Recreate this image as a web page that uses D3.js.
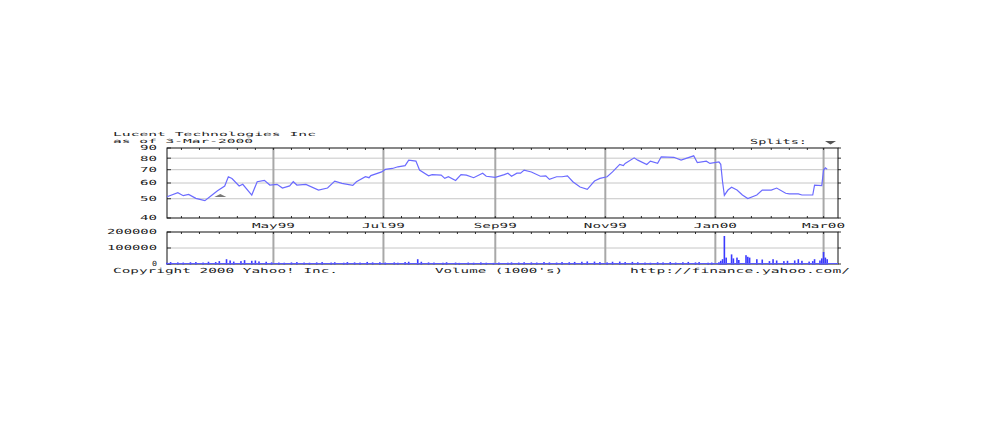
<!DOCTYPE html>
<html>
<head>
<meta charset="utf-8">
<script src="https://cdn.jsdelivr.net/npm/d3@7"></script>
<style>
html,body{margin:0;padding:0;background:#fff;}
svg{display:block;}
text{font-family:"DejaVu Sans Mono",monospace;fill:#222;}
</style>
</head>
<body>
<svg id="chart" width="981" height="436"></svg>
<script>
// ---------- data ----------
const titleText = "Lucent Technologies Inc";
const asOfText = "as of 3-Mar-2000";
const priceDates = ["1999-03-03","1999-03-09","1999-03-12","1999-03-15","1999-03-19","1999-03-24","1999-03-28","1999-03-31","1999-04-04","1999-04-06","1999-04-08","1999-04-12","1999-04-14","1999-04-19","1999-04-22","1999-04-26","1999-04-29","1999-05-03","1999-05-06","1999-05-10","1999-05-12","1999-05-14","1999-05-19","1999-05-26","1999-05-31","1999-06-04","1999-06-08","1999-06-14","1999-06-16","1999-06-21","1999-06-23","1999-06-24","1999-06-30","1999-07-02","1999-07-06","1999-07-09","1999-07-13","1999-07-15","1999-07-19","1999-07-21","1999-07-26","1999-07-28","1999-08-02","1999-08-04","1999-08-06","1999-08-10","1999-08-13","1999-08-16","1999-08-20","1999-08-25","1999-08-27","1999-09-01","1999-09-06","1999-09-08","1999-09-10","1999-09-13","1999-09-15","1999-09-17","1999-09-21","1999-09-26","1999-09-29","1999-10-01","1999-10-05","1999-10-08","1999-10-11","1999-10-14","1999-10-18","1999-10-22","1999-10-26","1999-10-29","1999-11-02","1999-11-05","1999-11-09","1999-11-11","1999-11-12","1999-11-17","1999-11-19","1999-11-24","1999-11-26","1999-11-30","1999-12-02","1999-12-09","1999-12-13","1999-12-20","1999-12-22","1999-12-27","1999-12-29","2000-01-03","2000-01-04","2000-01-05","2000-01-06","2000-01-08","2000-01-10","2000-01-13","2000-01-16","2000-01-19","2000-01-24","2000-01-27","2000-02-01","2000-02-04","2000-02-09","2000-02-11","2000-02-16","2000-02-18","2000-02-24","2000-02-25","2000-02-29","2000-03-01","2000-03-02","2000-03-03"];
const priceValues = [51.2,53.6,51.8,52.6,50.2,48.9,52.2,54.8,57.9,64.5,63.2,58.0,59.1,52.2,60.9,61.9,58.6,59.1,56.6,58.0,60.9,58.6,59.0,55.3,56.6,61.3,59.7,58.4,60.9,64.5,63.8,65.4,68.2,70.2,71.0,72.4,73.4,78.2,77.3,69.7,65.2,66.1,65.7,63.3,64.5,61.8,66.1,65.7,63.8,67.2,64.9,64.1,66.1,67.2,64.9,67.2,67.2,69.7,68.2,64.9,65.2,62.6,64.5,64.5,65.2,60.9,57.3,55.7,61.4,63.3,64.5,68.2,74.4,73.4,75.3,80.3,78.2,74.4,77.3,75.3,81.3,80.8,78.2,82.2,76.1,77.3,75.3,76.6,74.5,60.9,52.0,55.3,57.1,55.3,52.2,50.1,52.2,55.3,55.3,56.6,53.3,52.9,52.9,52.2,52.2,58.6,58.2,69.7,71.5,70.4];
const volumeDates = ["1999-03-03","1999-03-05","1999-03-09","1999-03-12","1999-03-16","1999-03-19","1999-03-23","1999-03-26","1999-03-30","1999-04-01","1999-04-05","1999-04-07","1999-04-09","1999-04-13","1999-04-15","1999-04-19","1999-04-21","1999-04-23","1999-04-27","1999-04-30","1999-05-04","1999-05-07","1999-05-11","1999-05-14","1999-05-18","1999-05-21","1999-05-25","1999-05-28","1999-06-02","1999-06-04","1999-06-09","1999-06-11","1999-06-15","1999-06-18","1999-06-22","1999-06-25","1999-06-29","1999-07-02","1999-07-07","1999-07-09","1999-07-13","1999-07-15","1999-07-20","1999-07-22","1999-07-26","1999-07-29","1999-08-03","1999-08-05","1999-08-10","1999-08-12","1999-08-17","1999-08-20","1999-08-24","1999-08-27","1999-08-31","1999-09-03","1999-09-08","1999-09-10","1999-09-14","1999-09-17","1999-09-21","1999-09-24","1999-09-28","1999-10-01","1999-10-05","1999-10-08","1999-10-12","1999-10-15","1999-10-19","1999-10-22","1999-10-26","1999-10-29","1999-11-02","1999-11-05","1999-11-09","1999-11-12","1999-11-16","1999-11-19","1999-11-23","1999-11-26","1999-11-30","1999-12-03","1999-12-07","1999-12-10","1999-12-14","1999-12-17","1999-12-21","1999-12-23","1999-12-28","1999-12-30","2000-01-03","2000-01-04","2000-01-05","2000-01-06","2000-01-07","2000-01-10","2000-01-11","2000-01-13","2000-01-14","2000-01-18","2000-01-19","2000-01-20","2000-01-24","2000-01-27","2000-01-31","2000-02-02","2000-02-04","2000-02-08","2000-02-10","2000-02-14","2000-02-16","2000-02-18","2000-02-22","2000-02-24","2000-02-25","2000-02-28","2000-02-29","2000-03-01","2000-03-02","2000-03-03"];
const volumeValues = [8000,12000,10000,9000,11000,12000,9000,14000,12000,18000,30000,22000,15000,18000,24000,20000,22000,16000,14000,10000,9000,8000,10000,12000,9000,8000,10000,12000,9000,11000,8000,12000,10000,9000,13000,10000,11000,9000,10000,8000,12000,14000,30000,14000,10000,9000,8000,11000,9000,7000,9000,8000,10000,8000,7000,9000,8000,10000,9000,11000,10000,9000,12000,10000,9000,12000,11000,13000,14000,16000,15000,12000,10000,14000,15000,12000,13000,11000,9000,8000,11000,10000,12000,9000,11000,13000,10000,12000,8000,9000,11000,20000,30000,175000,40000,60000,35000,40000,25000,55000,45000,40000,30000,28000,18000,30000,22000,18000,20000,22000,30000,20000,15000,18000,30000,22000,35000,75000,40000,30000];
const priceTicks = [40,50,60,70,80,90];
const volumeTicks = [0,100000,200000];
const splitDates = ["1999-04-01"];
const footerLeft = "Copyright 2000 Yahoo! Inc.";
const footerMid = "Volume (1000's)";
const footerRight = "http://finance.yahoo.com/";

// ---------- setup ----------
const parse = d3.utcParse("%Y-%m-%d");
const price = priceDates.map((d,i)=>({date:parse(d), v:priceValues[i]}));
const vol = volumeDates.map((d,i)=>({date:parse(d), v:volumeValues[i]}));

const svg = d3.select("#chart");
const L = 167, R = 838;
const pTop = 148, pBot = 218;
const vTop = 232, vBot = 264;

const x = d3.scaleUtc().domain([parse("1999-03-03"), parse("2000-03-09")]).range([L, R]);
const y = d3.scaleLog().domain([40,90]).range([pBot, pTop]);
const yv = d3.scaleLinear().domain([0,200000]).range([vBot, vTop]);

const majors = d3.utcMonth.every(2).range(x.domain()[0], x.domain()[1]);
const minors = d3.utcDay.range(x.domain()[0], x.domain()[1]).filter(d => [1,11,21].includes(d.getUTCDate()));

function stretchText(sel, str, x0, yc, w, anchor, fs){
  return sel.append("text").text(str)
    .attr("x", x0).attr("y", yc).attr("dy","0.35em")
    .attr("font-size", fs || 7)
    .attr("text-anchor", anchor || "start")
    .attr("textLength", w).attr("lengthAdjust","spacingAndGlyphs");
}

// ---------- price panel ----------
const gP = svg.append("g");
gP.selectAll("line.hg").data(priceTicks.filter(t=>t>40&&t<90)).join("line")
  .attr("x1",L).attr("x2",R).attr("y1",d=>y(d)).attr("y2",d=>y(d))
  .attr("stroke","#c6c6c6").attr("stroke-width",1);
gP.selectAll("line.vg").data(majors).join("line")
  .attr("x1",d=>x(d)).attr("x2",d=>x(d)).attr("y1",pTop).attr("y2",pBot)
  .attr("stroke","#a8a8a8").attr("stroke-width",2);
// minor ticks
gP.selectAll("line.mt").data(minors).join("line")
  .attr("x1",d=>x(d)).attr("x2",d=>x(d)).attr("y1",pTop).attr("y2",pTop+2)
  .attr("stroke","#333");
gP.selectAll("line.mb").data(minors).join("line")
  .attr("x1",d=>x(d)).attr("x2",d=>x(d)).attr("y1",pBot-2).attr("y2",pBot)
  .attr("stroke","#333");
// y ticks left & right
gP.selectAll("line.yl").data(priceTicks).join("line")
  .attr("x1",L).attr("x2",L+4).attr("y1",d=>y(d)).attr("y2",d=>y(d)).attr("stroke","#333");
gP.selectAll("line.yr").data(priceTicks).join("line")
  .attr("x1",R).attr("x2",R+3).attr("y1",d=>y(d)).attr("y2",d=>y(d)).attr("stroke","#333");
// frame
gP.append("rect").attr("x",L).attr("y",pTop).attr("width",R-L).attr("height",pBot-pTop)
  .attr("fill","none").attr("stroke","#111").attr("stroke-width",1);
// price line
gP.append("path").datum(price)
  .attr("d", d3.line().x(d=>x(d.date)).y(d=>y(d.v)))
  .attr("fill","none").attr("stroke","#6b6bff").attr("stroke-width",1.2);
// split marker
gP.selectAll("path.split").data(splitDates).join("path")
  .attr("d", d=>{const cx=x(parse(d))+1; return `M${cx-6},${pBot-21}L${cx+6},${pBot-21}L${cx},${pBot-24}Z`;})
  .attr("fill","#777");
// y labels
priceTicks.forEach(t=>stretchText(gP, String(t), 157, y(t), 17, "end"));

// x labels
majors.forEach(d=>stretchText(gP, d3.utcFormat("%b%y")(d), x(d), 225.5, 43, "middle"));

// ---------- volume panel ----------
const gV = svg.append("g");
gV.selectAll("line.hg").data([100000]).join("line")
  .attr("x1",L).attr("x2",R).attr("y1",d=>yv(d)).attr("y2",d=>yv(d))
  .attr("stroke","#c6c6c6");
gV.selectAll("line.vg").data(majors).join("line")
  .attr("x1",d=>x(d)).attr("x2",d=>x(d)).attr("y1",vTop).attr("y2",vBot)
  .attr("stroke","#a8a8a8").attr("stroke-width",2);
gV.selectAll("line.mt").data(minors).join("line")
  .attr("x1",d=>x(d)).attr("x2",d=>x(d)).attr("y1",vTop).attr("y2",vTop+2)
  .attr("stroke","#333");
gV.selectAll("line.yl").data(volumeTicks).join("line")
  .attr("x1",L).attr("x2",L+4).attr("y1",d=>yv(d)).attr("y2",d=>yv(d)).attr("stroke","#333");
gV.selectAll("line.yr").data(volumeTicks).join("line")
  .attr("x1",R).attr("x2",R+3).attr("y1",d=>yv(d)).attr("y2",d=>yv(d)).attr("stroke","#333");
gV.append("rect").attr("x",L).attr("y",vTop).attr("width",R-L).attr("height",vBot-vTop)
  .attr("fill","none").attr("stroke","#111");
gV.selectAll("rect.bar").data(vol).join("rect")
  .attr("x",d=>x(d.date)-0.8).attr("width",1.6)
  .attr("y",d=>yv(d.v)).attr("height",d=>vBot-yv(d.v)+0.5)
  .attr("fill","#3b3bff");
gV.append("line").attr("x1",L).attr("x2",R).attr("y1",vBot-0.5).attr("y2",vBot-0.5)
  .attr("stroke","#5a5aff").attr("stroke-width",1);
stretchText(gV, "200000", 157, yv(200000), 50, "end");
stretchText(gV, "100000", 157, yv(100000), 50, "end");
stretchText(gV, "0", 157, yv(0), 5, "end");

// ---------- titles ----------
stretchText(svg, titleText, 113, 134.3, 203, "start", 5.6);
stretchText(svg, asOfText, 113, 141, 140, "start", 5.6);
stretchText(svg, "Splits:", 750, 142, 57);
svg.append("path").attr("d","M825,141L836,141L830.5,144.5Z").attr("fill","#555");

stretchText(svg, footerLeft, 113, 270.5, 225);
stretchText(svg, footerMid, 435, 270.5, 128);
stretchText(svg, footerRight, 630, 270.5, 220);
</script>
</body>
</html>
